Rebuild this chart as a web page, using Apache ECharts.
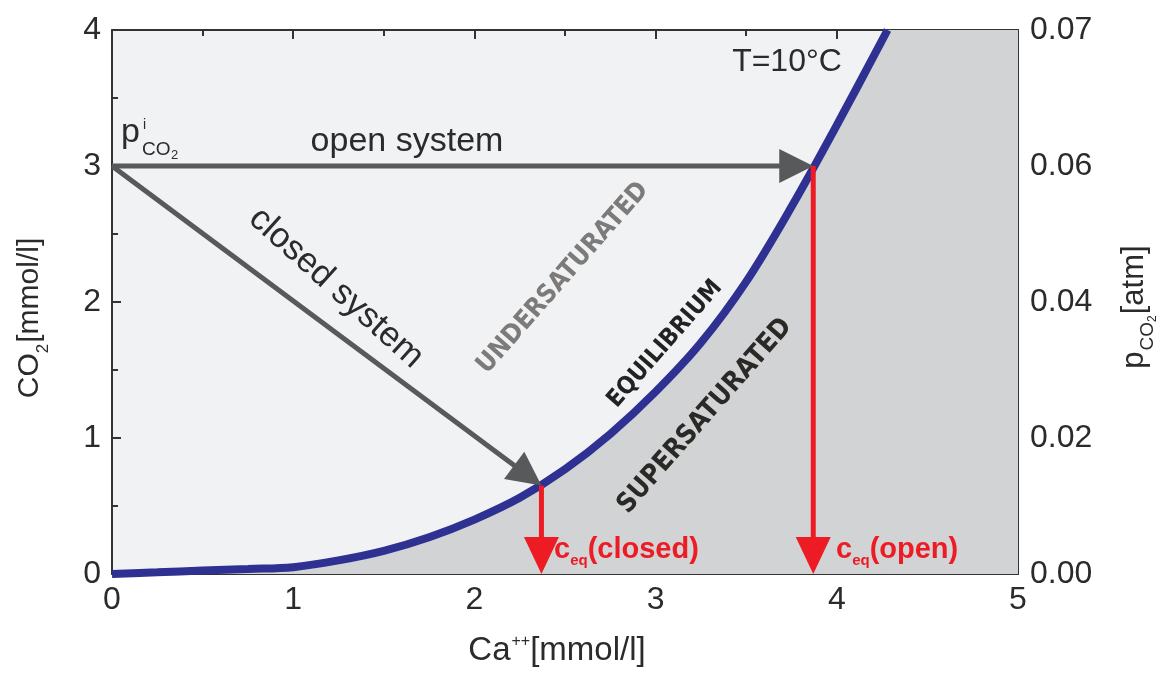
<!DOCTYPE html>
<html>
<head>
<meta charset="utf-8">
<script src="https://cdn.jsdelivr.net/npm/echarts@6/dist/echarts.min.js"></script>
<style>
html,body{margin:0;padding:0;background:#fff;}
#main{width:1163px;height:674px;}
</style>
</head>
<body>
<div id="main"></div>
<script>
// ---- data ----
const curveCa  = [0, 0.25, 0.5, 0.75, 1, 1.25, 1.5, 1.75, 2, 2.25, 2.5, 2.75, 3, 3.25, 3.5, 3.75, 4, 4.28];
const curveCO2 = [0, 0.012, 0.025, 0.037, 0.05, 0.10, 0.17, 0.27, 0.40, 0.56, 0.77, 1.03, 1.34, 1.70, 2.15, 2.70, 3.30, 4.0];
const supersatTop = [[4.265, 4], [5, 4]];
const grayArrows = [[0, 3, 3.87, 3], [0, 3, 2.37, 0.65]];
const redArrows  = [[2.37, 0.65, 2.37, 0], [3.87, 3, 3.87, 0]];
const rightTickLabels = ['0.00', '0.02', '0.04', '0.06', '0.07'];

const FONT = '"Liberation Sans", Arial, Helvetica, sans-serif';
const COND = '"DejaVu Sans Condensed", "Liberation Sans Narrow", "DejaVu Sans", sans-serif';
const AX = '#333333';
const TXT = '#2b2b2b';

const chart = echarts.init(document.getElementById('main'));

function axisBase(extra) {
  return Object.assign({
    type: 'value', min: 0, interval: 1,
    axisLine: { show: true, onZero: false, lineStyle: { color: AX, width: 2 } },
    axisTick: { show: true, inside: true, length: 9, lineStyle: { color: AX, width: 2 } },
    minorTick: { show: true, splitNumber: 2, length: 6, lineStyle: { color: AX, width: 2 } },
    splitLine: { show: false },
    minorSplitLine: { show: false }
  }, extra);
}
function label(extra) {
  return Object.assign({ color: TXT, fontSize: 32, fontFamily: FONT, showMinLabel: true, showMaxLabel: true }, extra);
}

function arrowRenderer(color, lw, headL, headW) {
  return function (params, api) {
    const p0 = api.coord([api.value(0), api.value(1)]);
    const p1 = api.coord([api.value(2), api.value(3)]);
    const dx = p1[0] - p0[0], dy = p1[1] - p0[1];
    const len = Math.hypot(dx, dy);
    const ux = dx / len, uy = dy / len;
    const bx = p1[0] - ux * headL, by = p1[1] - uy * headL;
    return {
      type: 'group',
      children: [
        { type: 'line', shape: { x1: p0[0], y1: p0[1], x2: bx + ux, y2: by + uy },
          style: { stroke: color, lineWidth: lw } },
        { type: 'polygon', shape: { points: [
            [p1[0], p1[1]],
            [bx - uy * headW / 2, by + ux * headW / 2],
            [bx + uy * headW / 2, by - ux * headW / 2]
          ] }, style: { fill: color } }
      ]
    };
  };
}

const option = {
  animation: false,
  backgroundColor: '#ffffff',
  grid: { left: 112, right: 145, top: 30, bottom: 100, show: true, backgroundColor: '#f1f2f4', borderWidth: 0 },
  xAxis: [
    axisBase({ max: 5, position: 'bottom', axisLabel: label({ margin: 10 }) }),
    axisBase({ max: 5, position: 'top', axisLabel: { show: false } })
  ],
  yAxis: [
    axisBase({ max: 4, position: 'left', axisLabel: label({ margin: 11 }) }),
    axisBase({ max: 4, position: 'right', axisLabel: label({ margin: 12,
      formatter: function (v) { return rightTickLabels[Math.round(v)]; } }) })
  ],
  series: [
    {
      type: 'line', name: 'supersatTop', data: supersatTop, showSymbol: false, silent: true,
      lineStyle: { width: 0 }, areaStyle: { color: '#d1d3d5', opacity: 1 }, z: 1
    },
    {
      type: 'line', name: 'equilibrium', data: curveCa.map((x, i) => [x, curveCO2[i]]),
      showSymbol: false, smooth: 0.35, clip: false, silent: true,
      lineStyle: { color: '#2e3192', width: 8 },
      areaStyle: { color: '#d1d3d5', opacity: 1 }, z: 2
    },
    {
      type: 'custom', name: 'gray', data: grayArrows, renderItem: arrowRenderer('#58595b', 5, 34, 34), z: 3, silent: true
    },
    {
      type: 'custom', name: 'red', data: redArrows, renderItem: arrowRenderer('#ed1c24', 5, 37, 35), z: 4, silent: true
    }
  ],
  graphic: [
    // axis titles
    { type: 'text', x: 32, y: 318, rotation: Math.PI / 2, z: 10,
      style: { text: '{m|CO}{s|2}{m|[mmol/l]}', align: 'center', verticalAlign: 'middle',
        rich: { m: { fontSize: 30, fontFamily: FONT, fill: TXT, lineHeight: 34, verticalAlign: 'top' },
                s: { fontSize: 17, fontFamily: FONT, fill: TXT, lineHeight: 17, padding: [20, 1, 0, 0], verticalAlign: 'top' } } } },
    { type: 'text', x: 557, y: 652, z: 10,
      style: { text: '{m|Ca}{p|++}{m|[mmol/l]}', align: 'center', verticalAlign: 'middle',
        rich: { m: { fontSize: 33, fontFamily: FONT, fill: TXT, lineHeight: 36, verticalAlign: 'top' },
                p: { fontSize: 16, fontFamily: FONT, fill: TXT, lineHeight: 16, padding: [0, 0, 0, 1], verticalAlign: 'top' } } } },
    { type: 'text', x: 1136, y: 307, rotation: Math.PI / 2, z: 10,
      style: { text: '{m|p}{s|CO}{t|2}{m|[atm]}', align: 'center', verticalAlign: 'middle',
        rich: { m: { fontSize: 31, fontFamily: FONT, fill: TXT, lineHeight: 34, verticalAlign: 'top' },
                s: { fontSize: 19, fontFamily: FONT, fill: TXT, lineHeight: 19, padding: [19, 0, 0, 1], verticalAlign: 'top' } ,
                t: { fontSize: 12, fontFamily: FONT, fill: TXT, lineHeight: 12, padding: [28, 1, 0, 0], verticalAlign: 'top' } } } },
    // annotations
    { type: 'text', x: 787, y: 62, z: 10,
      style: { text: 'T=10°C', fontSize: 32, fontFamily: FONT, fill: TXT, align: 'center', verticalAlign: 'middle' } },
    { type: 'text', x: 407, y: 142, z: 10,
      style: { text: 'open system', fontSize: 34, fontFamily: FONT, fill: TXT, align: 'center', verticalAlign: 'middle' } },
    { type: 'text', x: 336, y: 288, rotation: -42 * Math.PI / 180, z: 10,
      style: { text: 'closed system', fontSize: 35, fontFamily: FONT, fill: TXT, align: 'center', verticalAlign: 'middle' } },
    { type: 'text', x: 121, y: 116, z: 10,
      style: { text: '{m|p}{i|i}', align: 'left', verticalAlign: 'top',
        rich: { m: { fontSize: 34, fontFamily: FONT, fill: TXT, lineHeight: 36, verticalAlign: 'top' },
                i: { fontSize: 14, fontFamily: FONT, fill: TXT, lineHeight: 14, padding: [2, 0, 0, 3], verticalAlign: 'top' } } } },
    { type: 'text', x: 142, y: 140, z: 10,
      style: { text: 'CO', fontSize: 19, fontFamily: FONT, fill: TXT, align: 'left', verticalAlign: 'top' } },
    { type: 'text', x: 171, y: 149, z: 10,
      style: { text: '2', fontSize: 13, fontFamily: FONT, fill: TXT, align: 'left', verticalAlign: 'top' } },
    { type: 'text', x: 563, y: 278, rotation: 48.7 * Math.PI / 180, z: 10,
      style: { text: 'UNDERSATURATED', fontSize: 26, fontWeight: 'bold', fontFamily: COND, fill: '#7d7b7a',
               align: 'center', verticalAlign: 'middle' } },
    { type: 'text', x: 665, y: 344, rotation: 48.7 * Math.PI / 180, z: 10,
      style: { text: 'EQUILIBRIUM', fontSize: 24, fontWeight: 'bold', fontFamily: COND, fill: '#222222',
               align: 'center', verticalAlign: 'middle' } },
    { type: 'text', x: 705, y: 416, rotation: 48.7 * Math.PI / 180, z: 10,
      style: { text: 'SUPERSATURATED', fontSize: 27, fontWeight: 'bold', fontFamily: COND, fill: '#2a2926',
               align: 'center', verticalAlign: 'middle' } },
    { type: 'text', x: 554, y: 551, z: 10,
      style: { text: '{m|c}{s|eq}{m|(closed)}', align: 'left', verticalAlign: 'middle',
        rich: { m: { fontSize: 29, fontWeight: 'bold', fontFamily: FONT, fill: '#ed1c24', lineHeight: 31, verticalAlign: 'top' },
                s: { fontSize: 15, fontWeight: 'bold', fontFamily: FONT, fill: '#ed1c24', lineHeight: 15, padding: [18, 0, 0, 0], verticalAlign: 'top' } } } },
    { type: 'text', x: 836, y: 551, z: 10,
      style: { text: '{m|c}{s|eq}{m|(open)}', align: 'left', verticalAlign: 'middle',
        rich: { m: { fontSize: 29, fontWeight: 'bold', fontFamily: FONT, fill: '#ed1c24', lineHeight: 31, verticalAlign: 'top' },
                s: { fontSize: 15, fontWeight: 'bold', fontFamily: FONT, fill: '#ed1c24', lineHeight: 15, padding: [18, 0, 0, 0], verticalAlign: 'top' } } } }
  ]
};
chart.setOption(option);
</script>
</body>
</html>
